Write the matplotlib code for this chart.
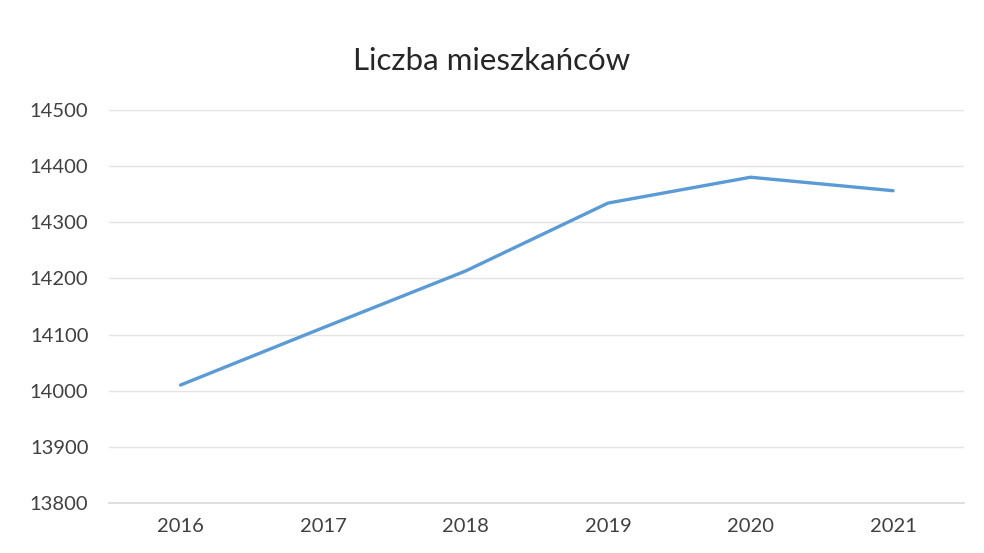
import numpy as np
import matplotlib.pyplot as plt

# Liczba mieszkańców w latach 2016-2021 (odczyt z wykresu)
years = ["2016", "2017", "2018", "2019", "2020", "2021"]
residents = [14010, 14112, 14213, 14334, 14380, 14356]
y_ticks = [13800, 13900, 14000, 14100, 14200, 14300, 14400, 14500]

text_color = "#404040"
grid_color = "#e3e3e3"
line_color = "#5b9bd5"

fig = plt.figure(figsize=(9.84, 5.53), dpi=100)
ax = fig.add_axes([0.111, 0.0904, 0.869, 0.711])

x = np.arange(len(years))
ax.plot(x, residents, color=line_color, linewidth=2.4, solid_capstyle="round")

ax.set_xlim(-0.5, len(years) - 0.5)
ax.set_ylim(y_ticks[0], y_ticks[-1])
ax.set_xticks(x)
ax.set_xticklabels(years)
ax.set_yticks(y_ticks)

ax.grid(axis="y", color=grid_color, linewidth=1)
ax.set_axisbelow(True)
for side in ["top", "right", "left"]:
    ax.spines[side].set_visible(False)
ax.spines["bottom"].set_color("#d9d9d9")
ax.spines["bottom"].set_linewidth(1.2)

ax.tick_params(axis="both", length=0, colors=text_color, labelsize=14.5)
ax.tick_params(axis="y", pad=15)
ax.tick_params(axis="x", pad=11)
for lab in ax.get_xticklabels() + ax.get_yticklabels():
    lab.set_family("Lato")

fig.text(0.5, 0.89, "Liczba mieszkańców", ha="center", va="center",
         fontsize=22.5, color="#262626", family="Lato")

plt.savefig("out.png", dpi=100)
